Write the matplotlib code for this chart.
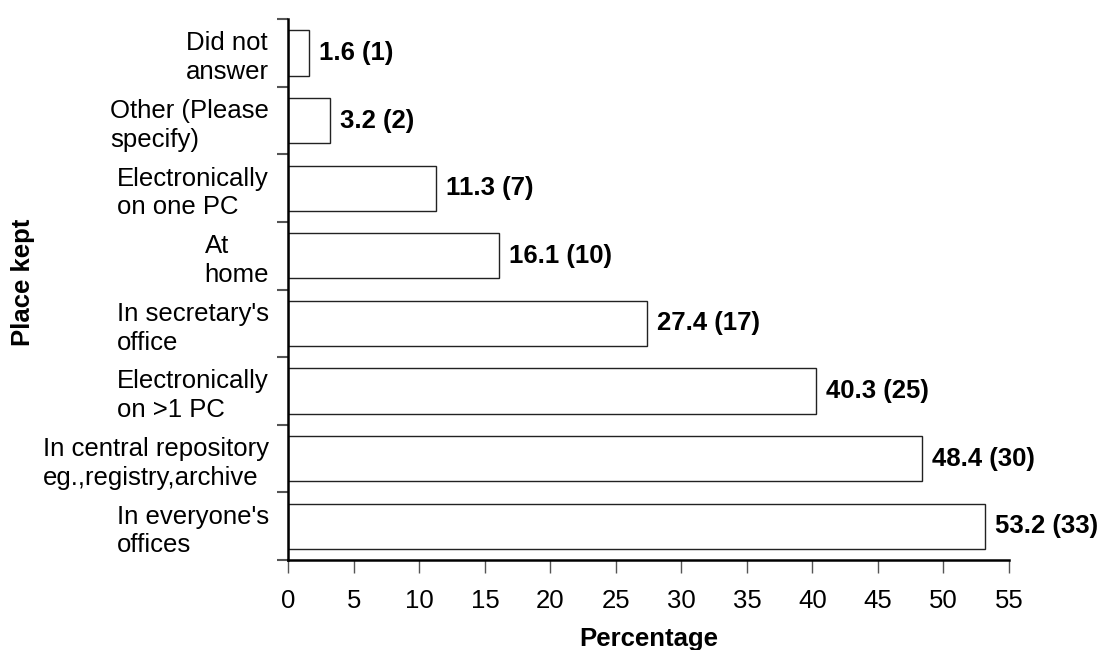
import matplotlib
matplotlib.use("Agg")
import matplotlib.pyplot as plt
import numpy as np

plt.rcParams['font.family'] = ['Liberation Sans', 'DejaVu Sans']

# bottom to top
places = ["In everyone's\noffices",
          "In central repository\neg.,registry,archive",
          "Electronically\non >1 PC",
          "In secretary's\noffice",
          "At\nhome",
          "Electronically\non one PC",
          "Other (Please\nspecify)",
          "Did not\nanswer"]
percent = [53.2, 48.4, 40.3, 27.4, 16.1, 11.3, 3.2, 1.6]
counts = [33, 30, 25, 17, 10, 7, 2, 1]
x_ticks = list(range(0, 60, 5))

fs = 18.5

fig = plt.figure(figsize=(10.99, 6.5), dpi=100)
ax = fig.add_axes([0.2625, 0.1385, 0.6555, 0.832])

pos = np.arange(len(places))
ax.barh(pos, percent, height=0.67, color='white', edgecolor='#222222', linewidth=1.0)

for p, v, c in zip(pos, percent, counts):
    ax.text(v + 0.75, p, f"{v} ({c})", va='center', ha='left',
            fontsize=fs, fontweight='bold')

ax.set_xlim(0, 55)
ax.set_ylim(-0.5, len(places) - 0.5)
ax.set_xticks(x_ticks)
ax.tick_params(axis='x', labelsize=fs, length=9, width=1, color='#555555', pad=12)

# category labels at bar centres, tick marks at boundaries
ax.set_yticks(pos)
ax.set_yticklabels(places, fontsize=fs, multialignment='left', linespacing=1.25)
ax.tick_params(axis='y', which='major', length=0, pad=14)
ax.set_yticks(np.arange(-0.5, len(places), 1.0), minor=True)
ax.tick_params(axis='y', which='minor', length=8, width=1.5, color='#555555')

for s in ['top', 'right']:
    ax.spines[s].set_visible(False)
for s in ['left', 'bottom']:
    ax.spines[s].set_linewidth(1.8)
    ax.spines[s].set_color('black')

ax.set_xlabel("Percentage", fontsize=fs, fontweight='bold', labelpad=10)
fig.text(0.021, 0.565, "Place kept", rotation=90, va='center', ha='center',
         fontsize=fs, fontweight='bold')

fig.savefig("out.png", dpi=100)
